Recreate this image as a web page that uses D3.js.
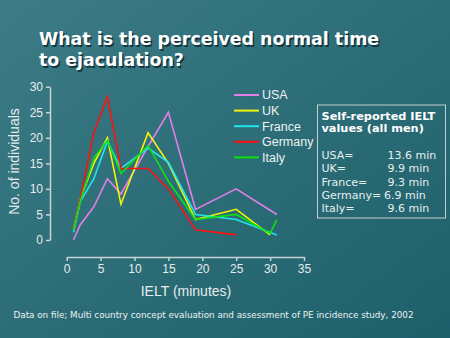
<!DOCTYPE html>
<html><head><meta charset="utf-8">
<script src="https://cdn.jsdelivr.net/npm/d3@7"></script>
<style>html,body{margin:0;padding:0;background:#2c6c76;}svg{display:block;}</style>
</head><body>
<svg id="c" width="450" height="338"></svg>
<script>
const countries = ["USA", "UK", "France", "Germany", "Italy"];
const usaIelt = [1, 2, 4, 6, 8, 12, 15, 19, 25, 31];
const usaCount = [0, 3, 6.5, 12, 9, 18.3, 25, 6, 10, 5];
const ukIelt = [1, 2, 4, 6, 8, 12, 15, 19, 25, 30];
const ukCount = [2, 8, 15, 20, 7, 21, 15, 4, 6, 1];
const franceIelt = [1, 2, 4, 6, 8, 12, 15, 19, 25, 31];
const franceCount = [1.5, 7.5, 12, 19.3, 14, 18, 15.2, 5, 4, 1];
const germanyIelt = [1, 2, 4, 6, 8, 12, 15, 19, 25];
const germanyCount = [2, 8, 21, 28, 14, 14, 10, 2, 1];
const italyIelt = [1, 2, 4, 6, 8, 12, 15, 19, 25, 30, 31];
const italyCount = [2, 7.5, 16, 19.5, 13, 18.5, 11.5, 4, 5, 1.3, 4];
const xTicks = [0, 5, 10, 15, 20, 25, 30, 35];
const yTicks = [0, 5, 10, 15, 20, 25, 30];
const summaryLabels = ["USA=", "UK=", "France=", "Germany=", "Italy="];
const summaryValues = ["13.6 min", "9.9 min", "9.3 min", "6.9 min", "9.6 min"];

const seriesX = [usaIelt, ukIelt, franceIelt, germanyIelt, italyIelt];
const seriesY = [usaCount, ukCount, franceCount, germanyCount, italyCount];
const colors = ["#e27ee6", "#f4f40a", "#1fe6ea", "#ff1010", "#10e010"];

const svg = d3.select("#c");
const defs = svg.append("defs");
const g = defs.append("linearGradient").attr("id","bg").attr("x1","0").attr("y1","0").attr("x2","1").attr("y2","1");
g.append("stop").attr("offset","0").attr("stop-color","#3d7c86");
g.append("stop").attr("offset","0.5").attr("stop-color","#2c6d77");
g.append("stop").attr("offset","1").attr("stop-color","#1d606b");
svg.append("rect").attr("width",450).attr("height",338).attr("fill","url(#bg)");

// Title
const title = ["What is the perceived normal time", "to ejaculation?"];
title.forEach((t,i)=>{
  svg.append("text").attr("x",40.5).attr("y",46.5+i*21).text(t)
    .attr("font-family","DejaVu Sans").attr("font-weight","bold").attr("font-size",17.4)
    .attr("fill","#0c2a30").attr("opacity",0.8);
  svg.append("text").attr("x",39).attr("y",45+i*21).text(t)
    .attr("font-family","DejaVu Sans").attr("font-weight","bold").attr("font-size",17.4)
    .attr("fill","#ffffff");
});

const x = d3.scaleLinear().domain([0,35]).range([66.7,304]);
const y = d3.scaleLinear().domain([0,30]).range([240,86.7]);
const axisCol = "#c9d3d4";

const xa = svg.append("g").attr("transform","translate(0,257)")
  .call(d3.axisBottom(x).tickValues(xTicks).tickSize(4).tickSizeOuter(0).tickPadding(3));
const ya = svg.append("g").attr("transform","translate(50,0)")
  .call(d3.axisLeft(y).tickValues(yTicks).tickSize(4).tickSizeOuter(0).tickPadding(3));
[xa,ya].forEach(a=>{
  a.select(".domain").attr("stroke",axisCol).attr("stroke-width",1.5);
  a.selectAll(".tick line").attr("stroke",axisCol).attr("stroke-width",1.5);
  a.selectAll(".tick text").attr("fill","#e6ecec").attr("font-family","Liberation Sans").attr("font-size",12);
});

svg.append("text").attr("x",186).attr("y",296).attr("text-anchor","middle")
  .attr("font-family","Liberation Sans").attr("font-size",14).attr("fill","#e6ecec").text("IELT (minutes)");
svg.append("text").attr("transform","translate(19,161.5) rotate(-90)").attr("text-anchor","middle")
  .attr("font-family","Liberation Sans").attr("font-size",14).attr("fill","#e6ecec").text("No. of individuals");

// Lines
const line = d3.line().x(d=>x(d[0])).y(d=>y(d[1]));
countries.forEach((c,i)=>{
  const pts = seriesX[i].map((v,j)=>[v, seriesY[i][j]]);
  svg.append("path").datum(pts).attr("d",line).attr("fill","none")
    .attr("stroke",colors[i]).attr("stroke-width",1.6).attr("stroke-linejoin","miter");
});

// Legend
countries.forEach((c,i)=>{
  const ly = 95 + i*15.6;
  svg.append("line").attr("x1",234).attr("x2",259).attr("y1",ly).attr("y2",ly)
    .attr("stroke",colors[i]).attr("stroke-width",2);
  svg.append("text").attr("x",262).attr("y",ly+4.3).text(c)
    .attr("font-family","Liberation Sans").attr("font-size",12.5).attr("fill","#eef2f2");
});

// Summary box
svg.append("rect").attr("x",317.5).attr("y",105).attr("width",128).attr("height",113)
  .attr("fill","none").attr("stroke","#c4cfd0").attr("stroke-width",1);
["Self-reported IELT","values (all men)"].forEach((t,i)=>{
  svg.append("text").attr("x",321.5).attr("y",119.5+i*12.5).text(t)
    .attr("font-family","DejaVu Sans").attr("font-weight","bold").attr("font-size",11.3).attr("fill","#ffffff");
});
summaryLabels.forEach((t,i)=>{
  const by = 159 + i*13.3;
  svg.append("text").attr("x",321.5).attr("y",by).text(t)
    .attr("font-family","DejaVu Sans").attr("font-size",11).attr("fill","#e8eeee");
  svg.append("text").attr("x", t==="Germany=" ? 384 : 387.5).attr("y",by).text(summaryValues[i])
    .attr("font-family","DejaVu Sans").attr("font-size",11).attr("fill","#e8eeee");
});

// Footnote
svg.append("text").attr("x",13.5).attr("y",318).attr("textLength",400).attr("lengthAdjust","spacingAndGlyphs")
  .attr("font-family","DejaVu Sans").attr("font-size",8.6).attr("fill","#eef2f2")
  .text("Data on file; Multi country concept evaluation and assessment of PE incidence study, 2002");
</script>
</body></html>
